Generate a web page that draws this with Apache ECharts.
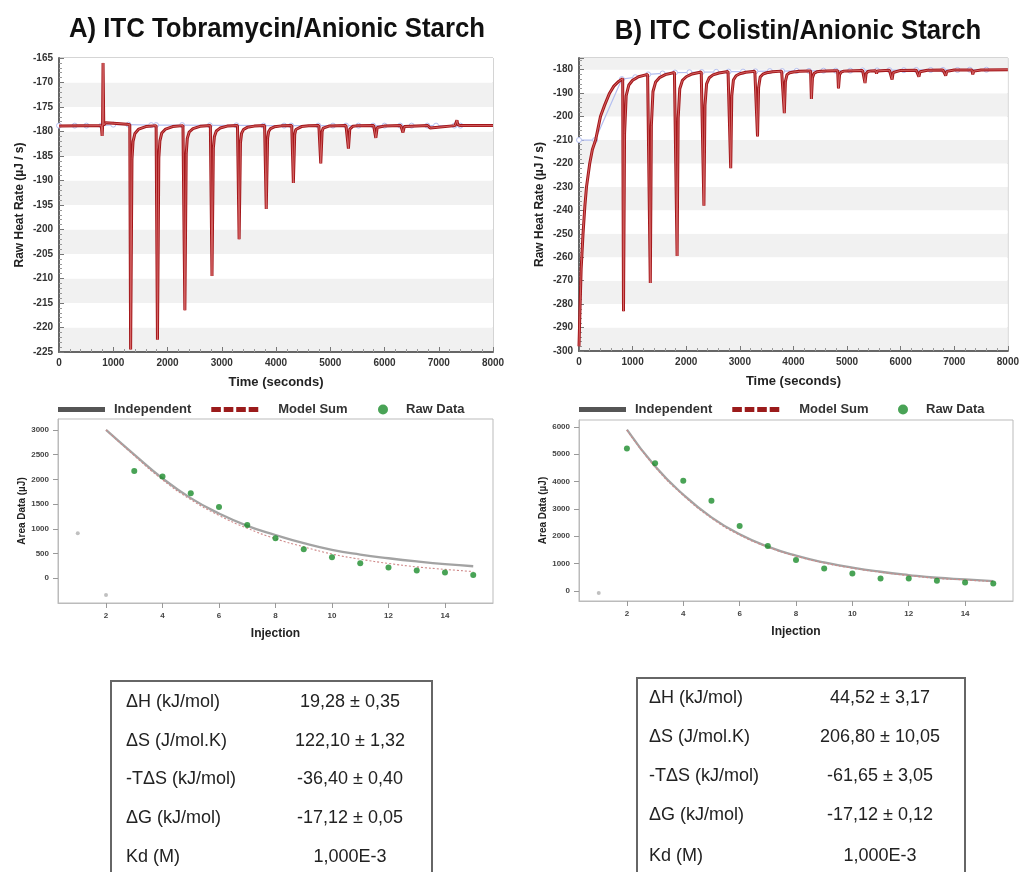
<!DOCTYPE html>
<html><head><meta charset="utf-8">
<script src="https://cdn.jsdelivr.net/npm/echarts@6.0.0/dist/echarts.min.js"></script>
<style>html,body{margin:0;padding:0;background:#fff}#c{width:1022px;height:872px}</style>
</head><body><div id="c"></div>
<script>
// ---------- DATA ----------
const titleA = 'A) ITC Tobramycin/Anionic Starch';
const titleB = 'B) ITC Colistin/Anionic Starch';

// Raw heat rate trace, panel A  [time s, µJ/s]
const rawTraceA = [[0,-178.9],[780,-178.8],[795,-180.9],[803,-179],[812,-166],[825,-178.7],[860,-178.2],[1000,-178.3],[1250,-178.5],
 [1305,-178.6],[1320,-224.5],[1345,-185.7],[1365,-182.0],[1400,-180.4],[1470,-179.5],[1600,-179.0],[1790,-178.8],
 [1800,-178.8],[1815,-222.5],[1840,-185.4],[1860,-181.9],[1895,-180.3],[1965,-179.5],[2095,-179.0],[2285,-178.8],
 [2305,-178.8],[2320,-216.5],[2345,-184.5],[2365,-181.4],[2400,-180.1],[2470,-179.4],[2600,-178.95],[2790,-178.8],
 [2805,-178.8],[2820,-209.5],[2845,-183.4],[2865,-181.0],[2900,-179.9],[2970,-179.3],[3100,-178.9],[3290,-178.8],
 [3305,-178.8],[3320,-202.0],[3345,-182.3],[3365,-180.4],[3400,-179.6],[3470,-179.15],[3600,-178.9],[3790,-178.8],
 [3805,-178.8],[3820,-195.8],[3845,-181.4],[3865,-180.0],[3900,-179.4],[3970,-179.05],[4100,-178.85],[4290,-178.8],
 [4305,-178.8],[4320,-190.5],[4345,-180.6],[4365,-179.6],[4400,-179.2],[4470,-179.0],[4600,-178.85],[4790,-178.8],
 [4810,-178.8],[4825,-186.5],[4850,-180.0],[4870,-179.3],[4905,-179.1],[4975,-178.9],[5290,-178.8],
 [5320,-178.8],[5335,-183.5],[5360,-179.5],[5380,-179.1],[5415,-178.95],[5485,-178.85],[5800,-178.8],
 [5825,-178.8],[5840,-181.3],[5865,-179.2],[5885,-179.0],[5990,-178.9],[6300,-178.8],
 [6325,-178.8],[6340,-180.2],[6365,-179.0],[6400,-178.9],[6800,-178.8],
 [6825,-178.8],[6840,-179.3],[6865,-178.9],[7300,-178.8],
 [7320,-178.8],[7335,-177.7],[7350,-178.6],[7400,-178.8],[8000,-178.8]];

const baselineA = [[0,-178.8],[290,-178.8],[505,-178.8],[780,-178.8],[1000,-178.6],[1280,-178.6],[1700,-178.7],[1790,-178.7],
 [2270,-178.7],[2780,-178.75],[3270,-178.75],[3770,-178.8],[4150,-178.8],[4280,-178.8],[4780,-178.8],[5050,-178.8],
 [5290,-178.8],[5520,-178.8],[5790,-178.8],[6000,-178.8],[6290,-178.8],[6500,-178.8],[6790,-178.8],[6950,-178.8],
 [7290,-178.8],[7400,-178.8]];

// Raw heat rate trace, panel B
const rawTraceB = [[0,-298],[15,-285],[40,-265],[75,-250],[110,-238],[140,-230],[200,-220],[250,-214],[310,-210],
 [400,-200],[480,-195],[570,-190],[650,-187],[740,-185],[815,-183.8],
 [830,-283],[850,-207.3],[880,-191.1],[930,-186.5],[1000,-184.5],[1110,-183],[1280,-182],
 [1315,-181.9],[1330,-271],[1350,-203.7],[1380,-189.3],[1430,-185.2],[1500,-183.4],[1610,-182.1],[1780,-181.2],
 [1815,-181.2],[1830,-259.5],[1850,-200.6],[1880,-188.1],[1930,-184.5],[2000,-183],[2110,-181.8],[2280,-181],
 [2315,-181],[2330,-238],[2350,-195.1],[2380,-186],[2430,-183.4],[2500,-182.2],[2610,-181.4],[2780,-180.8],
 [2815,-180.8],[2830,-222],[2850,-191],[2880,-184.4],[2930,-182.6],[3000,-181.7],[3110,-181.1],[3280,-180.7],
 [3315,-180.7],[3330,-208.5],[3350,-187.6],[3380,-183.1],[3430,-181.9],[3500,-181.3],[3610,-180.9],[3780,-180.6],
 [3815,-180.6],[3830,-198.5],[3850,-185],[3880,-182.1],[3930,-181.3],[4000,-181],[4110,-180.7],[4280,-180.5],
 [4320,-180.5],[4335,-192.5],[4355,-183.4],[4385,-181.5],[4435,-180.9],[4505,-180.7],[4615,-180.5],[4785,-180.4],
 [4825,-180.4],[4840,-188],[4860,-182.2],[4890,-181],[4940,-180.6],[5010,-180.5],[5290,-180.3],
 [5320,-180.3],[5335,-185.7],[5355,-181.7],[5385,-180.8],[5450,-180.5],[5535,-180.4],[5550,-181.7],[5565,-180.5],[5790,-180.2],
 [5825,-180.2],[5840,-184.2],[5860,-181.2],[5890,-180.6],[6000,-180.3],[6290,-180.2],
 [6325,-180.2],[6340,-183],[6360,-180.9],[6390,-180.4],[6500,-180.2],[6790,-180.1],
 [6825,-180.1],[6840,-182.5],[6860,-180.7],[6890,-180.3],[7000,-180.1],[7290,-180.1],
 [7330,-180.1],[7345,-182],[7365,-180.6],[7395,-180.3],[7500,-180.1],[8000,-180]];

const baselineB = [[0,-210],[300,-210],[800,-184],[1050,-183.2],[1290,-182],[1560,-181.6],[1790,-181.2],[2060,-181.1],
 [2290,-181],[2560,-180.9],[2790,-180.8],[3060,-180.8],[3290,-180.7],[3560,-180.6],[3790,-180.6],[4060,-180.5],
 [4290,-180.5],[4560,-180.4],[4790,-180.4],[5060,-180.4],[5290,-180.3],[5560,-180.3],[5790,-180.2],[6060,-180.2],
 [6290,-180.1],[6560,-180.1],[6790,-180.1],[7060,-180.1],[7290,-180],[7600,-180]];

// Area data (integrated heats)
const injFit = [2,3,4,5,6,7,8,9,10,11,12,13,14,15];
const indepA = [3000,2500,2020,1620,1310,1060,875,710,575,480,405,340,285,243];
const modelA = [3000,2480,1990,1590,1270,1010,800,635,490,385,300,230,180,135];
const rawInjA = [3,4,5,6,7,8,9,10,11,12,13,14,15];
const rawAreaA = [2171,2056,1719,1443,1079,809,587,425,303,216,155,115,67];
const exclInjA = [1,2];
const exclAreaA = [910,-337];

const indepB = [5900,4560,3520,2690,2070,1620,1290,1040,850,700,580,480,420,360];
const modelB = [5880,4530,3490,2660,2040,1600,1270,1020,830,680,560,460,400,340];
const rawInjB = [2,3,4,5,6,7,8,9,10,11,12,13,14,15];
const rawAreaB = [5204,4665,4028,3294,2375,1641,1127,820,637,453,453,367,306,269];
const exclInjB = [1];
const exclAreaB = [-73];

const injTicks = [2,4,6,8,10,12,14];
const areaTicksA = [0,500,1000,1500,2000,2500,3000];
const areaTicksB = [0,1000,2000,3000,4000,5000,6000];

// Thermodynamic tables
const paramLabels = ['\u0394H (kJ/mol)','\u0394S (J/mol.K)','-T\u0394S (kJ/mol)','\u0394G (kJ/mol)','Kd (M)'];
const paramValuesA = ['19,28 \u00b1 0,35','122,10 \u00b1 1,32','-36,40 \u00b1 0,40','-17,12 \u00b1 0,05','1,000E-3'];
const paramValuesB = ['44,52 \u00b1 3,17','206,80 \u00b1 10,05','-61,65 \u00b1 3,05','-17,12 \u00b1 0,12','1,000E-3'];

// ---------- CHART ----------
const zip = (xs, ys) => xs.map((x, i) => [x, ys[i]]);
const chart = echarts.init(document.getElementById('c'), null, {renderer: 'canvas'});
const FONT = 'Liberation Sans, Arial, sans-serif';
const plain = v => String(v);
const boldLbl = (size, color) => ({fontFamily: FONT, fontWeight: 'bold', fontSize: size, color: color || '#333'});

function rawX(gi) {
  return {type: 'value', gridIndex: gi, min: 0, max: 8000, interval: 1000,
    name: 'Time (seconds)', nameLocation: 'middle', nameGap: 24, nameTextStyle: boldLbl(13, '#222'),
    axisLine: {show: true, onZero: false, lineStyle: {color: '#666', width: 2}},
    axisTick: {show: true, inside: true, length: 5, lineStyle: {color: '#777'}},
    minorTick: {show: true, splitNumber: 5, length: 3, lineStyle: {color: '#999'}},
    axisLabel: Object.assign({margin: 6, formatter: plain}, boldLbl(10)),
    splitLine: {show: false}};
}
function rawY(gi, min, max, interval, showMax) {
  return {type: 'value', gridIndex: gi, min: min, max: max, interval: interval,
    name: 'Raw Heat Rate (\u00b5J / s)', nameLocation: 'middle', nameGap: 33, nameRotate: 90, nameTextStyle: boldLbl(12, '#222'),
    axisLine: {show: true, onZero: false, lineStyle: {color: '#666', width: 2}},
    axisTick: {show: true, inside: true, length: 5, lineStyle: {color: '#777'}},
    minorTick: {show: true, splitNumber: 5, length: 3, lineStyle: {color: '#999'}},
    axisLabel: Object.assign({margin: 6, showMaxLabel: showMax, formatter: plain}, boldLbl(10)),
    splitLine: {show: false},
    splitArea: {show: true, areaStyle: {color: ['#f1f1f1', '#ffffff']}}};
}
function areaX(gi) {
  return {type: 'value', gridIndex: gi, min: 0.3, max: 15.7,
    name: 'Injection', nameLocation: 'middle', nameGap: 25, nameTextStyle: boldLbl(12, '#222'),
    axisLine: {show: true, onZero: false, lineStyle: {color: '#bbb', width: 1}},
    axisTick: {show: true, customValues: injTicks, length: 5, lineStyle: {color: '#999'}},
    axisLabel: Object.assign({customValues: injTicks, margin: 9, formatter: plain}, boldLbl(8, '#444')),
    splitLine: {show: false}};
}
function areaY(gi, min, max, ticks) {
  return {type: 'value', gridIndex: gi, min: min, max: max,
    name: 'Area Data (\u00b5J)', nameLocation: 'middle', nameGap: 31, nameRotate: 90, nameTextStyle: boldLbl(10, '#222'),
    axisLine: {show: true, onZero: false, lineStyle: {color: '#bbb', width: 1}},
    axisTick: {show: true, customValues: ticks, length: 5, lineStyle: {color: '#999'}},
    axisLabel: Object.assign({customValues: ticks, margin: 9, formatter: plain}, boldLbl(8, '#444')),
    splitLine: {show: false}};
}
function traceSeries(xi, data) {
  return [
    {type: 'line', xAxisIndex: xi, yAxisIndex: xi, data: data, showSymbol: false, silent: true, z: 3,
      lineStyle: {color: '#a3161a', width: 3}},
    {type: 'line', xAxisIndex: xi, yAxisIndex: xi, data: data, showSymbol: false, silent: true, z: 4,
      lineStyle: {color: '#d86a6a', width: 0.9}}];
}
function baseSeries(xi, data) {
  return {type: 'line', xAxisIndex: xi, yAxisIndex: xi, data: data, symbol: 'circle', symbolSize: 5, z: 2,
    itemStyle: {color: '#fff', borderColor: '#b4bff0', borderWidth: 1},
    lineStyle: {color: '#b4bff0', width: 1.2}};
}
function areaSeries(xi, indep, model, rawInj, rawArea, exInj, exArea) {
  return [
    {name: 'Independent', type: 'line', xAxisIndex: xi, yAxisIndex: xi, data: zip(injFit, indep), smooth: true,
      showSymbol: false, lineStyle: {color: '#a3a3a3', width: 2.3}, itemStyle: {color: '#555'}, z: 2},
    {name: 'Model Sum', type: 'line', xAxisIndex: xi, yAxisIndex: xi, data: zip(injFit, model), smooth: true,
      showSymbol: false, lineStyle: {color: '#cf8a8a', width: 1.1, type: [2, 2]}, itemStyle: {color: '#9b1b1b'}, z: 3},
    {name: 'Raw Data', type: 'scatter', xAxisIndex: xi, yAxisIndex: xi, data: zip(rawInj, rawArea), symbolSize: 6,
      itemStyle: {color: '#1c8c2c'}, z: 4},
    {name: 'Excluded', type: 'scatter', xAxisIndex: xi, yAxisIndex: xi, data: zip(exInj, exArea), symbolSize: 4,
      itemStyle: {color: '#b0b0b0'}, z: 4}];
}
const dashIcon = 'path://M0,0h10v5h-10z M13,0h10v5h-10z M26,0h10v5h-10z M39,0h10v5h-10z';
function lineLegend(left) {
  return {left: left, top: 403, padding: 0, itemWidth: 47, itemHeight: 5, itemGap: 20, selectedMode: false,
    textStyle: Object.assign({padding: [0, 0, 0, 4]}, boldLbl(13, '#333')),
    data: [{name: 'Independent', icon: 'rect', itemStyle: {color: '#555'}},
           {name: 'Model Sum', icon: dashIcon, itemStyle: {color: '#9b1b1b'},
            textStyle: Object.assign({padding: [0, 0, 0, 15]}, boldLbl(13, '#333'))}]};
}
function dotLegend(left) {
  return {left: left, top: 403, padding: 0, itemWidth: 10, itemHeight: 10, selectedMode: false,
    textStyle: Object.assign({padding: [0, 0, 0, 13]}, boldLbl(13, '#333')),
    data: [{name: 'Raw Data', icon: 'circle', itemStyle: {color: '#1c8c2c'}}]};
}

// graphics: titles + tables
const TITLE_FONT = 'bold 28px "Liberation Sans Narrow", "Liberation Sans", Arial, sans-serif';
const graphics = [
  {type: 'text', x: 277, y: 29, scaleX: 0.92, style: {text: titleA, align: 'center', verticalAlign: 'middle', font: TITLE_FONT, fill: '#111'}},
  {type: 'text', x: 798, y: 31, scaleX: 0.92, style: {text: titleB, align: 'center', verticalAlign: 'middle', font: TITLE_FONT, fill: '#111'}}
];
const CELL_FONT = '18px "Liberation Sans", Arial, sans-serif';
function table(left, right, top, labelX, rowsY, valueCx, values) {
  graphics.push({type: 'polyline', shape: {points: [[left, 872], [left, top], [right, top], [right, 872]]},
    style: {stroke: '#666', lineWidth: 2, fill: null}});
  paramLabels.forEach((lab, i) => {
    graphics.push({type: 'text', x: labelX, y: rowsY[i], style: {text: lab, verticalAlign: 'middle', font: CELL_FONT, fill: '#222'}});
    graphics.push({type: 'text', x: valueCx, y: rowsY[i], style: {text: values[i], align: 'center', verticalAlign: 'middle', font: CELL_FONT, fill: '#222'}});
  });
}
table(111, 432, 681, 126, [702, 741, 779, 818, 857], 350, paramValuesA);
table(637, 965, 678, 649, [698, 737, 776, 815, 856], 880, paramValuesB);

chart.setOption({
  animation: false,
  backgroundColor: '#fff',
  grid: [
    {left: 59, top: 58, width: 434, height: 294, show: true, borderColor: '#aaa', borderWidth: 1},
    {left: 579, top: 58, width: 434, height: 293, show: true, borderColor: '#aaa', borderWidth: 1},
    {left: 58, top: 419, width: 435, height: 184, show: true, borderColor: '#bbb', borderWidth: 1},
    {left: 579, top: 420, width: 434, height: 181, show: true, borderColor: '#bbb', borderWidth: 1}
  ],
  xAxis: [rawX(0), rawX(1), areaX(2), areaX(3)],
  yAxis: [rawY(0, -225, -165, 5, true), rawY(1, -300, -175, 10, false), areaY(2, -500, 3220, areaTicksA), areaY(3, -370, 6250, areaTicksB)],
  legend: [lineLegend(58), dotLegend(378), lineLegend(579), dotLegend(898)],
  series: [].concat(
    [baseSeries(0, baselineA)], traceSeries(0, rawTraceA),
    [baseSeries(1, baselineB)], traceSeries(1, rawTraceB),
    areaSeries(2, indepA, modelA, rawInjA, rawAreaA, exclInjA, exclAreaA),
    areaSeries(3, indepB, modelB, rawInjB, rawAreaB, exclInjB, exclAreaB)
  ),
  graphic: graphics
});
</script></body></html>
